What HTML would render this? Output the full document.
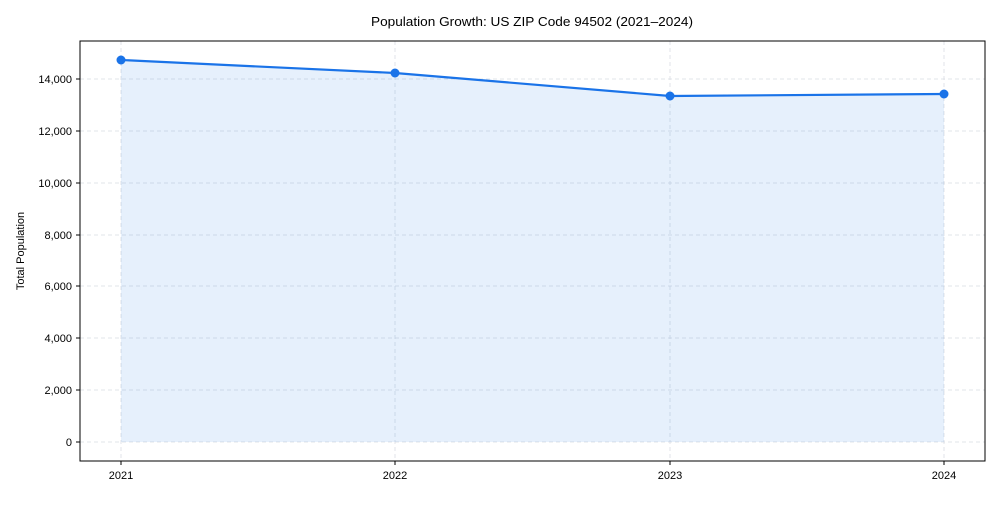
<!DOCTYPE html>
<html><head><meta charset="utf-8"><style>
body{margin:0;background:#fff;}
svg text{font-family:"Liberation Sans",Arial,sans-serif;fill:#000;}
</style></head><body>
<svg width="1000" height="500" viewBox="0 0 1000 500" xmlns="http://www.w3.org/2000/svg">
<rect width="1000" height="500" fill="#fff"/>
<text x="532" y="26" font-size="13" text-anchor="middle" textLength="322" lengthAdjust="spacingAndGlyphs">Population Growth: US ZIP Code 94502 (2021–2024)</text>
<g stroke="#d9dde3" stroke-width="0.8" stroke-dasharray="4,3">
<line x1="80" x2="985" y1="442" y2="442"/><line x1="80" x2="985" y1="390" y2="390"/>
<line x1="80" x2="985" y1="338" y2="338"/><line x1="80" x2="985" y1="286" y2="286"/>
<line x1="80" x2="985" y1="235" y2="235"/><line x1="80" x2="985" y1="183" y2="183"/>
<line x1="80" x2="985" y1="131" y2="131"/><line x1="80" x2="985" y1="79" y2="79"/>
<line x1="121" x2="121" y1="41" y2="461"/><line x1="395" x2="395" y1="41" y2="461"/>
<line x1="670" x2="670" y1="41" y2="461"/><line x1="944" x2="944" y1="41" y2="461"/>
</g>
<polygon points="121,60 395,73 670,96 944,94 944,442 121,442" fill="#1a73e8" fill-opacity="0.11"/>
<polyline points="121,60 395,73 670,96 944,94" fill="none" stroke="#1a73e8" stroke-width="2.2"/>
<g fill="#1a73e8"><circle cx="121" cy="60" r="4.5"/><circle cx="395" cy="73" r="4.5"/><circle cx="670" cy="96" r="4.5"/><circle cx="944" cy="94" r="4.5"/></g>
<rect x="80" y="41" width="905" height="420" fill="none" stroke="#000" stroke-width="1"/>
<g stroke="#000" stroke-width="1">
<line x1="76" x2="80" y1="442" y2="442"/><line x1="76" x2="80" y1="390" y2="390"/>
<line x1="76" x2="80" y1="338" y2="338"/><line x1="76" x2="80" y1="286" y2="286"/>
<line x1="76" x2="80" y1="235" y2="235"/><line x1="76" x2="80" y1="183" y2="183"/>
<line x1="76" x2="80" y1="131" y2="131"/><line x1="76" x2="80" y1="79" y2="79"/>
<line x1="121" x2="121" y1="461" y2="465"/><line x1="395" x2="395" y1="461" y2="465"/>
<line x1="670" x2="670" y1="461" y2="465"/><line x1="944" x2="944" y1="461" y2="465"/>
</g>
<g font-size="11" text-anchor="end">
<text x="72" y="446">0</text><text x="72" y="394">2,000</text><text x="72" y="342">4,000</text>
<text x="72" y="290">6,000</text><text x="72" y="239">8,000</text><text x="72" y="187">10,000</text>
<text x="72" y="135">12,000</text><text x="72" y="83">14,000</text>
</g>
<g font-size="11" text-anchor="middle">
<text x="121" y="479">2021</text><text x="395" y="479">2022</text><text x="670" y="479">2023</text><text x="944" y="479">2024</text>
</g>
<text transform="translate(24,251) rotate(-90)" font-size="11" text-anchor="middle">Total Population</text>
</svg>
</body></html>
